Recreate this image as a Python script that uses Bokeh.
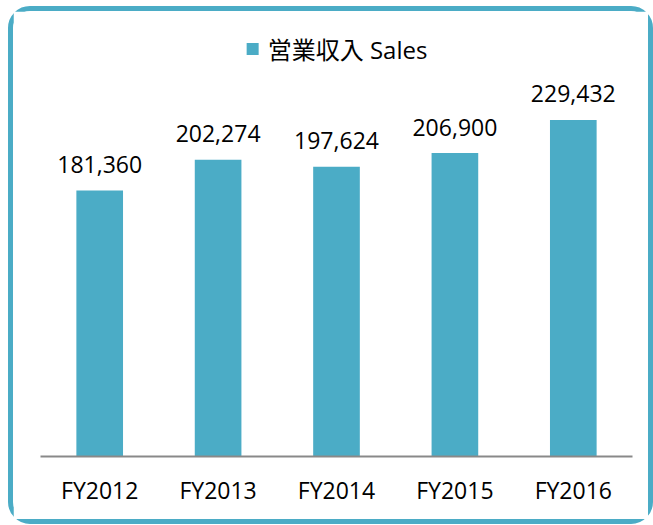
from bokeh.plotting import figure
from bokeh.models import ColumnDataSource, FactorRange, Range1d, Legend, LegendItem
from bokeh.core.properties import value
from bokeh.embed import file_html
from bokeh.resources import INLINE

categories = ["FY2012", "FY2013", "FY2014", "FY2015", "FY2016"]
sales = [181360, 202274, 197624, 206900, 229432]
series_name = "営業収入 Sales"

labels = [f"{v:,}" for v in sales]
src = ColumnDataSource(dict(cat=categories, val=sales, lab=labels))

BAR = "#4BACC6"
FONT = "Open Sans"

p = figure(
    width=645, height=518,
    x_range=FactorRange(*categories),
    y_range=Range1d(0, 300000),
    output_backend="svg", toolbar_location=None,
    min_border_left=27, min_border_right=26,
    min_border_top=5, min_border_bottom=73,
)
p.styles = {"border": f"5px solid {BAR}", "border-radius": "22px",
            "margin-left": "8px", "margin-top": "6px"}

r = p.vbar(x="cat", top="val", width=0.394, source=src, fill_color=BAR, line_color=None)
p.text(x="cat", y="val", text="lab", source=src, text_align="center",
       text_baseline="alphabetic", y_offset=-26, text_font=value(FONT),
       text_font_size="23px", text_color="#000000")

p.yaxis.visible = False
p.xgrid.grid_line_color = None
p.ygrid.grid_line_color = None
p.outline_line_color = None
p.xaxis.axis_line_color = "#898989"
p.xaxis.axis_line_width = 2
p.xaxis.major_tick_line_color = None
p.xaxis.minor_tick_line_color = None
p.xaxis.major_label_text_font = FONT
p.xaxis.major_label_text_font_size = "23px"
p.xaxis.major_label_text_color = "#000000"
p.xaxis.major_label_standoff = 11

legend = Legend(items=[LegendItem(label=series_name, renderers=[r])],
                location="top_center", orientation="horizontal",
                border_line_color=None, background_fill_alpha=0,
                label_text_font="Open Sans, Noto Sans CJK JP",
                label_text_font_size="24px", label_text_color="#000000",
                glyph_width=15, glyph_height=15, label_standoff=8,
                padding=0, margin=15, spacing=0)
p.add_layout(legend)

open("out.html", "w").write(file_html(p, INLINE))
